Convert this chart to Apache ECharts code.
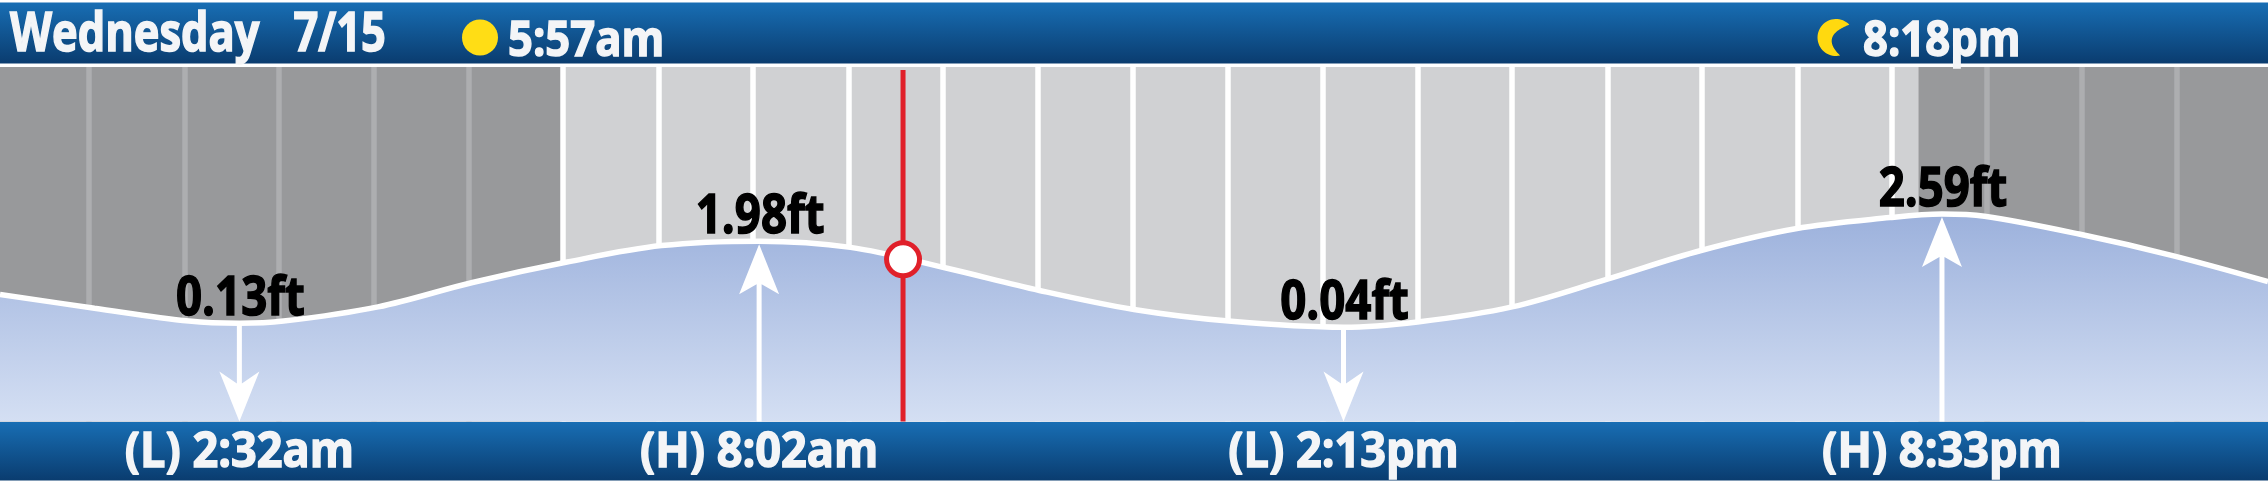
<!DOCTYPE html>
<html><head><meta charset="utf-8">
<style>html,body{margin:0;padding:0;background:#fff}#c{width:2268px;height:483px}</style>
<script src="https://cdn.jsdelivr.net/npm/echarts@6/dist/echarts.min.js"></script>
</head><body><div id="c"></div>
<script>
const curveHours=[0,1,2,2.533,3,4,5,6,7,8.033,9,10,11,12,13,14.217,15,16,17,18,19,20,20.55,21,22,23,24];
const curveFeet=[0.78,0.47,0.18,0.13,0.18,0.5,1.05,1.51,1.88,1.98,1.84,1.38,0.87,0.44,0.18,0.04,0.16,0.5,1.12,1.77,2.26,2.51,2.59,2.54,2.14,1.65,1.07];
const tideHours=[2.533,8.033,14.217,20.55];
const tideFeet=[0.13,1.98,0.04,2.59];
const tideValueLabels=['0.13ft','1.98ft','0.04ft','2.59ft'];
const tideTimeLabels=['(L) 2:32am','(H) 8:02am','(L) 2:13pm','(H) 8:33pm'];
const tideKinds=['L','H','L','H'];
const gridHours=[0.945,1.949,2.953,3.957,4.961,5.965,6.969,7.973,8.977,9.981,10.985,11.989,12.993,13.997,15.001,16.005,17.009,18.013,19.017,20.021,21.025,22.029,23.033];
const sunriseHour=5.95, sunsetHour=20.3;
const nowHour=9.556, nowFeet=1.57;
const dateLabel='Wednesday   7/15', sunriseLabel='5:57am', sunsetLabel='8:18pm';

const yMin=-2.08, yMax=5.9, nowTop=5.83;
const FONT='"Open Sans",sans-serif';
const barFill=()=>new echarts.graphic.LinearGradient(0,0,0,1,[{offset:0,color:'#186eb4'},{offset:1,color:'#0a3c6f'}]);
const WHITE='#f4f5f7';
const txt=(text,x,y,size,sx)=>({type:'text',z:6,x,y,scaleX:sx,style:{text,fill:WHITE,stroke:WHITE,lineWidth:1.5,font:'bold '+size+'px '+FONT,align:'left',verticalAlign:'bottom'}});
function moonPoints(){
 const pts=[],cx=1836,cy=37.5,r=18.5;
 const a0=Math.atan2(-12.5,13),a1=Math.atan2(17.5,4);
 const start=a0, end=a1-2*Math.PI;
 for(let i=0;i<=40;i++){const a=start+(end-start)*i/40;pts.push([cx+r*Math.cos(a),cy+r*Math.sin(a)]);}
 const P0=pts[pts.length-1],P2=pts[0],C=[1819.5,36];
 for(let i=1;i<40;i++){const t=i/40,u=1-t;pts.push([u*u*P0[0]+2*u*t*C[0]+t*t*P2[0],u*u*P0[1]+2*u*t*C[1]+t*t*P2[1]]);}
 return pts;
}
const chart=echarts.init(document.getElementById('c'),null,{renderer:'canvas'});
chart.setOption({
 animation:false,backgroundColor:'#fff',
 grid:{left:0,right:0,top:67,height:354.5,containLabel:false},
 xAxis:{type:'value',min:0,max:24,show:false},
 yAxis:{type:'value',min:yMin,max:yMax,show:false},
 graphic:[
  {type:'rect',z:0,shape:{x:0,y:2.5,width:2268,height:61},style:{fill:barFill()}},
  {type:'rect',z:0,shape:{x:0,y:422,width:2268,height:58.5},style:{fill:barFill()}},
  txt(dateLabel,10,62,53,0.82),
  {type:'circle',z:6,shape:{cx:480,cy:37.5,r:18},style:{fill:'#ffdd15'}},
  txt(sunriseLabel,508,67,49,0.89),
  {type:'polygon',z:6,shape:{points:moonPoints()},style:{fill:'#ffd90f'}},
  txt(sunsetLabel,1863,67,49,0.89)
 ],
 series:[
  {type:'line',z:1,data:[],silent:true,
   markArea:{silent:true,z:0,data:[
    [{xAxis:0,itemStyle:{color:'#98999b'}},{xAxis:sunriseHour}],
    [{xAxis:sunriseHour,itemStyle:{color:'#d0d1d3'}},{xAxis:sunsetHour}],
    [{xAxis:sunsetHour,itemStyle:{color:'#98999b'}},{xAxis:24}]]},
   markLine:{silent:true,z:1,symbol:'none',label:{show:false},animation:false,
    data:gridHours.map(h=>({xAxis:h,lineStyle:{type:'solid',width:5.5,color:(h<sunriseHour||h>sunsetHour)?'#adaeb0':'#fff'}}))}},
  {type:'line',z:2,smooth:0.35,symbol:'none',silent:true,clip:true,
   data:curveHours.map((h,i)=>[h,curveFeet[i]]),
   lineStyle:{color:'#fff',width:5.5},
   areaStyle:{origin:'start',opacity:1,color:new echarts.graphic.LinearGradient(0,0,0,1,[{offset:0,color:'#9cb1dc'},{offset:1,color:'#d4dff3'}])}},
  {type:'custom',z:3,silent:true,clip:false,coordinateSystem:'cartesian2d',
   data:tideHours.map((h,i)=>[h,tideFeet[i],tideKinds[i]==='H'?1:0]),
   renderItem(p,api){
    const up=api.value(2)===1;
    const c=api.coord([api.value(0),api.value(1)]);
    const base=api.coord([api.value(0),yMin]);
    const x=c[0];
    const pts=up?
     [[x,c[1]+3],[x+20,c[1]+53],[x+2.5,c[1]+43],[x+2.5,base[1]],[x-2.5,base[1]],[x-2.5,c[1]+43],[x-20,c[1]+53]]:
     [[x-2.5,c[1]],[x+2.5,c[1]],[x+2.5,base[1]-38],[x+20,base[1]-50],[x,base[1]],[x-20,base[1]-50],[x-2.5,base[1]-38]];
    return {type:'polygon',shape:{points:pts},style:{fill:'#fff'}};
   }},
  {type:'line',z:4,silent:true,symbol:'none',data:[[nowHour,yMin],[nowHour,nowTop]],lineStyle:{color:'#e0202a',width:5}},
  {type:'scatter',z:5,silent:true,data:[[nowHour,nowFeet]],symbol:'circle',symbolSize:33,itemStyle:{color:'#fff',borderColor:'#e0202a',borderWidth:5,opacity:1}},
  {type:'custom',z:6,silent:true,clip:false,
   data:tideHours.map((h,i)=>[h,tideFeet[i],i]),
   renderItem(p,api){
    const c=api.coord([api.value(0),api.value(1)]);
    const i=api.value(2);
    return {type:'group',children:[
     {type:'text',x:c[0]+1,y:c[1]+3,scaleX:0.86,style:{text:tideValueLabels[i],fill:'#000',stroke:'#000',lineWidth:1.5,font:'bold 53px '+FONT,align:'center',verticalAlign:'bottom'}},
     {type:'text',x:c[0],y:478,scaleX:0.92,style:{text:tideTimeLabels[i],fill:WHITE,stroke:WHITE,lineWidth:1.5,font:'bold 49px '+FONT,align:'center',verticalAlign:'bottom'}}
    ]};
   }}
 ]
});
</script></body></html>
